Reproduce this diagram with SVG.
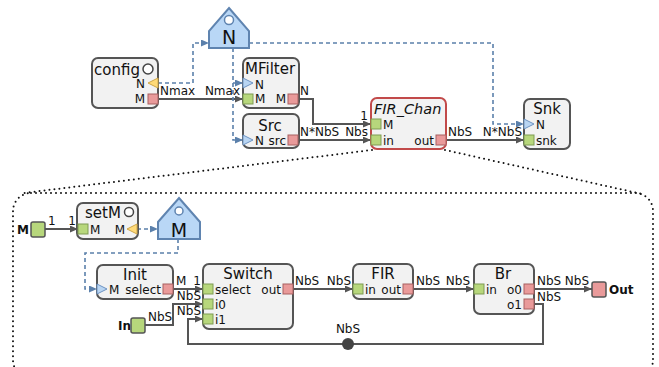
<svg xmlns="http://www.w3.org/2000/svg" width="659" height="367" viewBox="0 0 659 367">
<defs>
<style>
text{font-family:"DejaVu Sans","Liberation Sans",sans-serif;fill:#111;}
.t{font-size:15px;}
.p{font-size:12px;}
.e{font-size:12px;}
.b{font-size:12px;font-weight:bold;}
.m{text-anchor:middle;}
.r{text-anchor:end;}
.node{fill:#f2f2f2;stroke:#555;stroke-width:2;}
.g{fill:#b7d77c;stroke:#7f9b52;stroke-width:1;}
.rd{fill:#e99a9a;stroke:#a86060;stroke-width:1;}
.bt{fill:#b9d5f2;stroke:#6d93c2;stroke-width:1;}
.yt{fill:#ffda78;stroke:#cfa648;stroke-width:1;}
.house{fill:#b9d7f6;stroke:#5f84b0;stroke-width:2;}
.hc{fill:#fff;stroke:#5f84b0;stroke-width:1.5;}
.oc{fill:#fff;stroke:#444;stroke-width:1.5;}
.sl{fill:none;stroke:#555;stroke-width:2;}
.dl{fill:none;stroke:#5b80ab;stroke-width:1.6;stroke-dasharray:4 3;}
.dot{fill:none;stroke:#111;stroke-width:2;stroke-dasharray:0 5;stroke-linecap:round;}
.io{stroke:#555;stroke-width:1.5;}
</style>
<marker id="a" markerUnits="userSpaceOnUse" markerWidth="9" markerHeight="7" refX="8" refY="3.5" orient="auto"><path d="M0,0 L8,3.5 L0,7 z" fill="#555"/></marker>
<marker id="ab" markerUnits="userSpaceOnUse" markerWidth="9" markerHeight="7" refX="8" refY="3.5" orient="auto"><path d="M0,0 L8,3.5 L0,7 z" fill="#5b80ab"/></marker>
</defs>

<g id="outline">
<line class="dot" x1="372" y1="150" x2="24" y2="193"/>
<line class="dot" x1="445" y1="150" x2="642" y2="194"/>
<rect class="dot" x="13" y="193" width="640" height="185" rx="18"/>
</g>

<g id="connectors">
<path class="sl" d="M158,99 H243" marker-end="url(#a)"/>
<path class="sl" d="M298,99 H313 V124 H371" marker-end="url(#a)"/>
<path class="sl" d="M298,140 H371" marker-end="url(#a)"/>
<path class="sl" d="M446,140 H524" marker-end="url(#a)"/>
<path class="dl" d="M158,83 H193 V43 H209" marker-end="url(#ab)"/>
<path class="dl" d="M233,48 V140 H243" marker-end="url(#ab)"/>
<path class="dl" d="M233,83 H243" marker-end="url(#ab)"/>
<path class="dl" d="M249,43 H493 V124 H524" marker-end="url(#ab)"/>

<path class="sl" d="M45,229 H78" marker-end="url(#a)"/>
<path class="dl" d="M137,229 H158" marker-end="url(#ab)"/>
<path class="dl" d="M178,239 V253 H85 V289 H97" marker-end="url(#ab)"/>
<path class="sl" d="M173,289 H203" marker-end="url(#a)"/>
<path class="sl" d="M145,325 H173 V304 H203" marker-end="url(#a)"/>
<path class="sl" d="M534,304 H543 V344 H188 V319 H203" marker-end="url(#a)"/>
<circle cx="348" cy="344" r="6" fill="#444"/>
<path class="sl" d="M293,289 H353" marker-end="url(#a)"/>
<path class="sl" d="M413,289 H474" marker-end="url(#a)"/>
<path class="sl" d="M534,289 H592" marker-end="url(#a)"/>

<g id="edge-labels">
<text class="e" x="160" y="95">Nmax</text>
<text class="e r" x="240" y="95">Nmax</text>
<text class="e" x="300" y="95">N</text>
<text class="e r" x="368" y="120">1</text>
<text class="e" x="300" y="136">N*NbS</text>
<text class="e r" x="368" y="136">Nbs</text>
<text class="e" x="448" y="136">NbS</text>
<text class="e r" x="522" y="136">N*NbS</text>
<text class="e" x="48" y="225">1</text>
<text class="e r" x="76" y="225">1</text>
<text class="e" x="176" y="285">M</text>
<text class="e r" x="201" y="285">1</text>
<text class="e" x="148" y="321">NbS</text>
<text class="e r" x="201" y="300">NbS</text>
<text class="e r" x="201" y="315">NbS</text>
<text class="e m" x="348" y="333">NbS</text>
<text class="e" x="537" y="301">NbS</text>
<text class="e" x="295" y="285">NbS</text>
<text class="e r" x="351" y="285">NbS</text>
<text class="e" x="416" y="285">NbS</text>
<text class="e r" x="470" y="285">NbS</text>
<text class="e" x="537" y="285">NbS</text>
<text class="e r" x="589" y="285">NbS</text>
</g>
</g>

<g id="N">
<polygon class="house" points="229,8 249,31 249,48 209,48 209,31"/>
<circle class="hc" cx="229" cy="20" r="4.5"/>
<text class="m" x="229" y="44" style="font-size:19px">N</text>
</g>

<g id="config">
<rect class="node" x="92" y="58" width="66" height="50" rx="6"/>
<text class="t" x="94" y="75">config</text>
<circle class="oc" cx="148" cy="69" r="5"/>
<polygon class="yt" points="148,83 158,78 158,88"/>
<text class="p r" x="145" y="88">N</text>
<rect class="rd" x="148" y="94" width="10" height="10"/>
<text class="p r" x="145" y="103">M</text>
</g>

<g id="MFilter">
<rect class="node" x="243" y="58" width="56" height="50" rx="6"/>
<text class="t" x="245" y="74">MFilter</text>
<polygon class="bt" points="243,78 253,83 243,88"/>
<text class="p" x="255" y="89">N</text>
<rect class="g" x="243" y="94" width="10" height="10"/>
<text class="p" x="255" y="103">M</text>
<rect class="rd" x="288" y="94" width="10" height="10"/>
<text class="p r" x="286" y="103">M</text>
</g>

<g id="Src">
<rect class="node" x="243" y="114" width="56" height="34" rx="6"/>
<text class="t m" x="270" y="131">Src</text>
<polygon class="bt" points="243,135 253,140 243,145"/>
<text class="p" x="255" y="145">N</text>
<rect class="rd" x="288" y="135" width="10" height="10"/>
<text class="p r" x="286" y="145">src</text>
</g>

<g id="FIR_Chan">
<rect class="node" x="371" y="98" width="75" height="51" rx="6" style="stroke:#c24a4a"/>
<text class="t" x="374" y="114" style="font-style:italic;font-size:14.5px">FIR_Chan</text>
<rect class="g" x="371" y="119" width="10" height="10"/>
<text class="p" x="383" y="129">M</text>
<rect class="g" x="371" y="135" width="10" height="10"/>
<text class="p" x="383" y="145">in</text>
<rect class="rd" x="436" y="135" width="10" height="10"/>
<text class="p r" x="434" y="145">out</text>
</g>

<g id="Snk">
<rect class="node" x="524" y="99" width="46" height="50" rx="6"/>
<text class="t m" x="547" y="114">Snk</text>
<polygon class="bt" points="524,119 534,124 524,129"/>
<text class="p" x="536" y="129">N</text>
<rect class="g" x="524" y="135" width="10" height="10"/>
<text class="p" x="536" y="145">snk</text>
</g>

<g id="Min">
<text class="b" x="17" y="234">M</text>
<rect class="g io" x="31" y="222" width="14" height="15" rx="2"/>
</g>

<g id="setM">
<rect class="node" x="77" y="203" width="61" height="36" rx="6"/>
<text class="t" x="85" y="218">setM</text>
<circle class="oc" cx="129" cy="212" r="4.5"/>
<rect class="g" x="78" y="224" width="10" height="10"/>
<text class="p" x="90" y="234">M</text>
<polygon class="yt" points="127,229 137,224 137,234"/>
<text class="p r" x="125" y="234">M</text>
</g>

<g id="Mparam">
<polygon class="house" points="179,198 200,222 200,239 158,239 158,222"/>
<circle class="hc" cx="179" cy="211" r="4"/>
<text class="m" x="179" y="237" style="font-size:19px">M</text>
</g>

<g id="Init">
<rect class="node" x="97" y="265" width="76" height="34" rx="6"/>
<text class="t m" x="135" y="280">Init</text>
<polygon class="bt" points="97,284 107,289 97,294"/>
<text class="p" x="109" y="294">M</text>
<rect class="rd" x="163" y="284" width="10" height="10"/>
<text class="p r" x="161" y="294">select</text>
</g>

<g id="Switch">
<rect class="node" x="203" y="264" width="90" height="65" rx="6"/>
<text class="t m" x="248" y="279">Switch</text>
<rect class="g" x="203" y="284" width="10" height="10"/>
<text class="p" x="215" y="294">select</text>
<rect class="g" x="203" y="299" width="10" height="10"/>
<text class="p" x="215" y="309">i0</text>
<rect class="g" x="203" y="314" width="10" height="10"/>
<text class="p" x="215" y="324">i1</text>
<rect class="rd" x="283" y="284" width="10" height="10"/>
<text class="p r" x="281" y="294">out</text>
</g>

<g id="In">
<text class="b" x="118" y="330">In</text>
<rect class="g io" x="131" y="318" width="14" height="15" rx="2"/>
</g>

<g id="FIR">
<rect class="node" x="353" y="264" width="60" height="35" rx="6"/>
<text class="t m" x="383" y="279">FIR</text>
<rect class="g" x="353" y="284" width="10" height="10"/>
<text class="p" x="365" y="294">in</text>
<rect class="rd" x="403" y="284" width="10" height="10"/>
<text class="p r" x="401" y="294">out</text>
</g>

<g id="Br">
<rect class="node" x="474" y="264" width="60" height="50" rx="6"/>
<text class="t m" x="503" y="279">Br</text>
<rect class="g" x="474" y="284" width="10" height="10"/>
<text class="p" x="486" y="294">in</text>
<rect class="rd" x="524" y="284" width="10" height="10"/>
<text class="p r" x="522" y="294">o0</text>
<rect class="rd" x="524" y="299" width="10" height="10"/>
<text class="p r" x="522" y="309">o1</text>
</g>

<g id="Out">
<rect class="rd io" x="592" y="282" width="14" height="15" rx="2"/>
<text class="b" x="609" y="294">Out</text>
</g>
</svg>
